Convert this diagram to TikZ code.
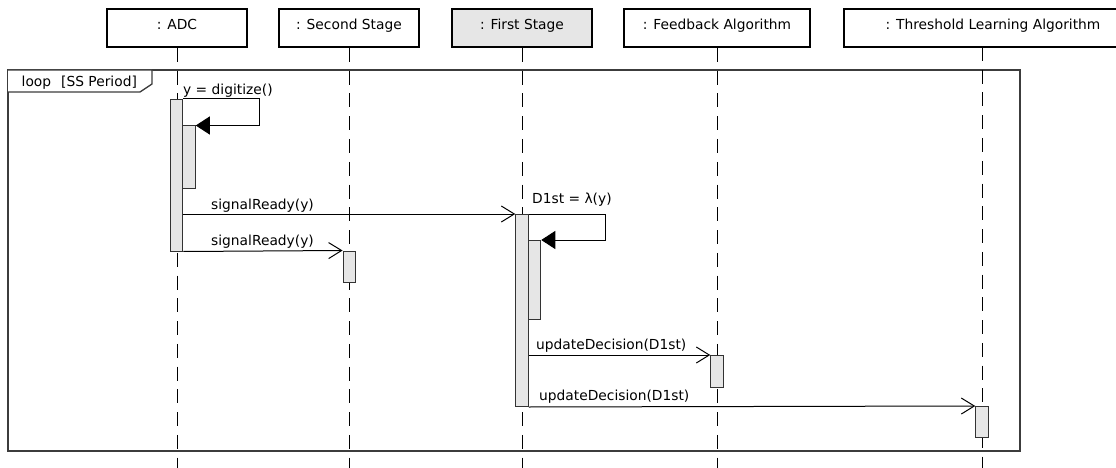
\documentclass[tikz,border=0pt]{standalone}
\usepackage{fontspec}
\setmainfont{DejaVu Sans}
\usetikzlibrary{arrows.meta}
\definecolor{barfill}{HTML}{E6E6E6}
\definecolor{framegray}{HTML}{3C3C3C}

\begin{document}
\begin{tikzpicture}[x=1pt, y=-1pt,
  font=\fontsize{13.8}{16}\selectfont,
  head/.style={draw=black, line width=2pt, fill=white, minimum height=37.5pt,
    inner sep=0pt, text height=10.1pt, text depth=6.6pt},
  lifeline/.style={draw=black, line width=1pt, dash pattern=on 14pt off 8.75pt},
  bar/.style={draw=black!80, line width=1pt, fill=barfill, minimum width=12.5pt,
    inner sep=0pt, anchor=north},
  msg/.style={draw=black, line width=1pt,
    -{Straight Barb[length=13pt, width=16pt, line width=1pt]}},
  selfmsg/.style={draw=black, line width=1pt,
    -{Triangle[length=14pt, width=18pt]}},
  frame/.style={draw=framegray, line width=1.3pt},
  lbl/.style={anchor=base west, inner sep=0pt}]

\useasboundingbox (0,0) rectangle (1116,468);
\coordinate (bottom) at (0,468);

% combined fragment
\draw[frame] (8,70) rectangle (1020,451);

% participants
\node[head, minimum width=140pt] (adc) at (177,28.25) {: ADC};
\node[head, minimum width=140pt] (ss) at (349,28.25) {: Second Stage};
\node[head, minimum width=140pt, fill=barfill] (fs) at (522,28.25) {: First Stage};
\node[head, minimum width=186pt] (fa) at (717,28.25) {: Feedback Algorithm};
\node[head, minimum width=298pt] (tla) at (993,28.25) {: Threshold Learning Algorithm};
\coordinate (tlatop) at (982,47);

% lifelines
\foreach \p in {adc,ss,fs,fa}
  \draw[lifeline] (\p.south) -- (\p.south |- bottom);
\draw[lifeline] (tlatop) -- (tlatop |- bottom);

% loop tab
\draw[frame, fill=white] (8,70) -- (152,70) -- (152,84) -- (140,92) -- (8,92);
\node[lbl] (looplbl) at (21.5,87) {loop\hspace{10pt}[SS Period]};

% activations
\node[bar, minimum height=151.5pt] (adcAct) at (176.5,99) {};
\node[bar, minimum height=62.5pt] (adcNest) at (189,125.5) {};
\node[bar, minimum height=31pt] (ssAct) at (349.3,250.5) {};
\node[bar, minimum height=192pt] (fsAct) at (522,214) {};
\node[bar, minimum height=78.5pt] (fsNest) at (534.5,240) {};
\node[bar, minimum height=32pt] (faAct) at (717,355) {};
\node[bar, minimum height=31pt] (tlaAct) at (982,406) {};

% messages
\draw[selfmsg] (adcAct.north east) -- ++(76,0) |- (adcNest.north east);
\node[lbl] (m1) at (183,95) {y = digitize()};

\draw[msg] (adcAct.east |- fsAct.north) -- (fsAct.north west);
\node[lbl] (m2) at (211,209) {signalReady(y)};

\draw[msg] (adcAct.south east) -- (ssAct.north west);
\node[lbl] (m3) at (211,245) {signalReady(y)};

\draw[selfmsg] (fsAct.north east) -- ++(77,0) |- (fsNest.north east);
\node[lbl] (m4) at (532,203) {D1st = λ(y)};

\draw[msg] (fsAct.east |- faAct.north) -- (faAct.north west);
\node[lbl] (m5) at (536,349) {updateDecision(D1st)};

\draw[msg] (fsAct.south east) -- (tlaAct.north west);
\node[lbl] (m6) at (539,400) {updateDecision(D1st)};

\end{tikzpicture}
\end{document}
